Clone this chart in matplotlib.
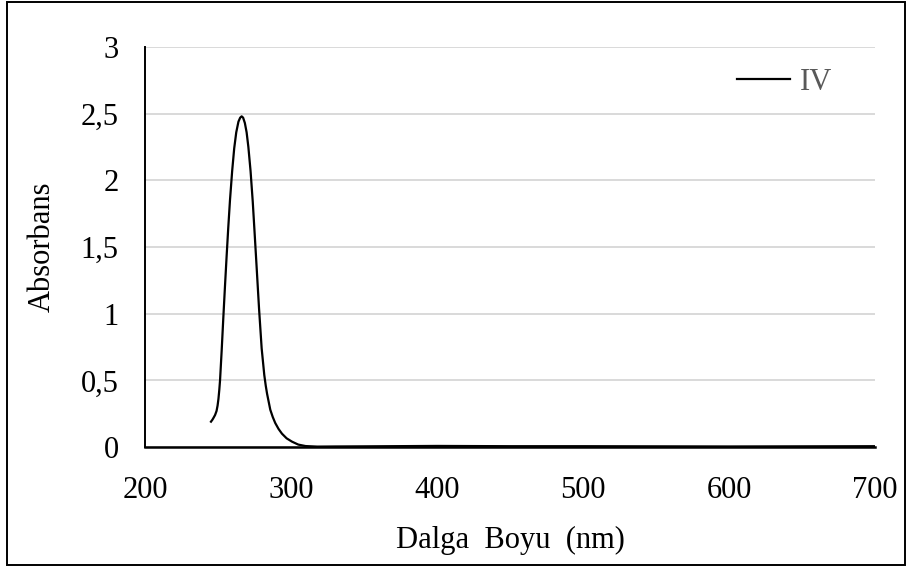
import numpy as np
import matplotlib
matplotlib.use("Agg")
import matplotlib.pyplot as plt
from matplotlib.patches import Rectangle

# spectrum
wavelength = [245.2, 246.2, 247.0, 248.0, 249.0, 249.7, 250.3, 250.9, 251.4, 252.5,
              253.6, 254.8, 255.9, 257.0, 258.2, 259.7, 261.1, 262.5, 264.0, 265.2,
              266.2, 267.2, 268.4, 269.6, 270.8, 272.3, 273.8, 275.0, 276.4, 277.3,
              278.1, 279.9, 281.7, 282.7, 283.6, 285.8, 287.5, 289.2, 291.5, 293.8,
              297.0, 300.7, 305.0, 310.0, 318.0, 330, 350, 400, 450, 500,
              550, 600, 650, 700]
absorbance = [0.19, 0.205, 0.22, 0.24, 0.27, 0.31, 0.36, 0.43, 0.50, 0.72,
              0.96, 1.21, 1.43, 1.64, 1.85, 2.07, 2.24, 2.36, 2.44, 2.47,
              2.48, 2.47, 2.43, 2.36, 2.25, 2.07, 1.84, 1.62, 1.36, 1.19,
              1.04, 0.74, 0.54, 0.46, 0.40, 0.28, 0.225, 0.18, 0.135, 0.10,
              0.065, 0.04, 0.018, 0.007, 0.003, 0.004, 0.005, 0.008, 0.006, 0.006,
              0.005, 0.004, 0.005, 0.006]
series_name = "IV"

x_ticks = [200, 300, 400, 500, 600, 700]
y_ticks = [0, 0.5, 1, 1.5, 2, 2.5, 3]
y_labels = ["0", "0,5", "1", "1,5", "2", "2,5", "3"]

plt.rcParams['font.family'] = ['Liberation Serif', 'DejaVu Serif']

fig = plt.figure(figsize=(9.12, 5.67), dpi=100)
ax = fig.add_axes([145/912, 1-447/567, 730/912, 400/567])

ax.plot(wavelength, absorbance, color="black", lw=1.6, label=series_name,
        solid_joinstyle="round")

ax.set_xlim(200, 700)
ax.set_ylim(0, 3)
ax.set_xticks(x_ticks)
ax.set_yticks(y_ticks)
ax.set_yticklabels(y_labels)
ax.tick_params(axis="both", length=0, labelsize=22, colors="black")
ax.tick_params(axis="x", pad=21)
ax.tick_params(axis="y", pad=19)
ax.grid(True, axis="y", color="#d9d9d9", lw=1.4)
ax.set_axisbelow(True)

for s in ["top", "right"]:
    ax.spines[s].set_visible(False)
ax.spines["left"].set_linewidth(1.4)
ax.spines["bottom"].set_linewidth(1.8)

ax.set_xlabel("Dalga  Boyu  (nm)", fontsize=22, labelpad=15)
ax.set_ylabel("Absorbans", fontsize=22, labelpad=17)

leg = ax.legend(loc="upper left", bbox_to_anchor=(737/912, 1-68/567),
                bbox_transform=fig.transFigure, frameon=False, fontsize=22,
                borderpad=0, borderaxespad=0, handlelength=1.75, handletextpad=0.3)
for t in leg.get_texts():
    t.set_color("#595959")

fig.patches.append(Rectangle((7/912, 2/567), 898/912, 563/567, transform=fig.transFigure,
                             fill=False, edgecolor="black", lw=1.4))

fig.savefig("out.png", dpi=100)
